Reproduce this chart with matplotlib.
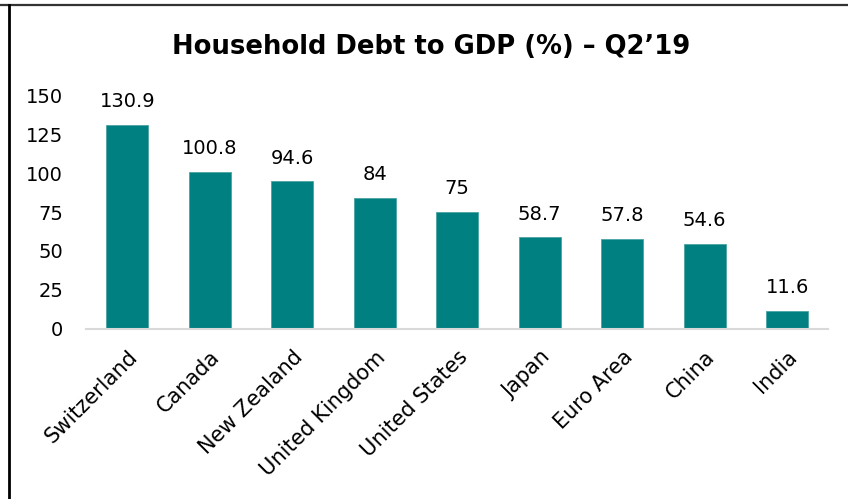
import matplotlib.pyplot as plt
from matplotlib.lines import Line2D

countries = ['Switzerland', 'Canada', 'New Zealand', 'United Kingdom', 'United States',
             'Japan', 'Euro Area', 'China', 'India']
debt_to_gdp = [130.9, 100.8, 94.6, 84, 75, 58.7, 57.8, 54.6, 11.6]
yticks = [0, 25, 50, 75, 100, 125, 150]

plt.rcParams['font.family'] = ['DejaVu Sans']

def main():
    fig = plt.figure(figsize=(8.48, 4.99), dpi=100)
    ax = fig.add_axes([0.1014, 0.3407, 0.8756, 0.4689])

    x = range(len(countries))
    ax.bar(x, debt_to_gdp, width=0.51, color='#008080', edgecolor='#4aa3a3', linewidth=0.6, zorder=2)

    for i, v in enumerate(debt_to_gdp):
        ax.annotate(f'{v:g}', (i, v), xytext=(0, 10), textcoords='offset points',
                    ha='center', va='bottom', fontsize=14, clip_on=False)

    ax.set_xlim(-0.5, len(countries) - 0.5)
    ax.set_ylim(0, 150)
    ax.set_yticks(yticks)
    ax.set_xticks(list(x))
    ax.set_xticklabels(countries, rotation=45, ha='right', rotation_mode='anchor', fontsize=15)
    ax.tick_params(axis='both', length=0)
    ax.tick_params(axis='y', pad=16.5, labelsize=14)
    ax.tick_params(axis='x', pad=13)
    for s in ['top', 'right', 'left']:
        ax.spines[s].set_visible(False)
    ax.spines['bottom'].set_color('#d9d9d9')
    ax.spines['bottom'].set_linewidth(1.5)

    fig.text(0.508, 0.905, 'Household Debt to GDP (%) \u2013 Q2\u201919', ha='center', va='center',
             fontsize=18.6, fontweight='bold')

    # outer frame: top and left lines only
    fig.add_artist(Line2D([0, 1], [0.99, 0.99], transform=fig.transFigure, color='#333333', lw=1.6))
    fig.add_artist(Line2D([0.0103, 0.0103], [0, 0.99], transform=fig.transFigure, color='black', lw=2))

    fig.savefig('out.png', dpi=100)
    plt.close(fig)

if __name__ == '__main__':
    main()
